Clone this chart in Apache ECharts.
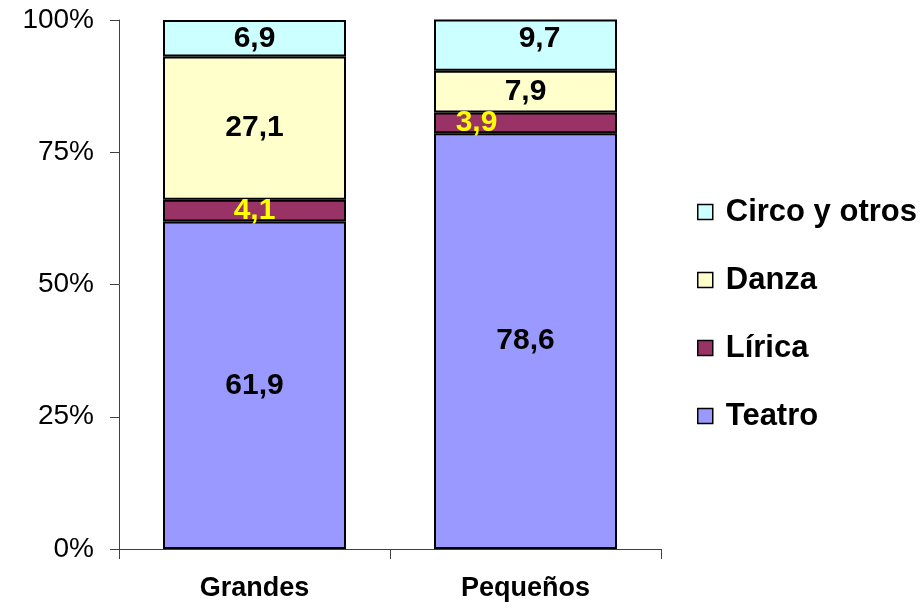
<!DOCTYPE html>
<html>
<head>
<meta charset="utf-8">
<script src="https://cdn.jsdelivr.net/npm/echarts@6/dist/echarts.min.js"></script>
<style>
  html, body { margin: 0; padding: 0; background: #fff; }
  #chart { width: 920px; height: 610px; }
</style>
</head>
<body>
<div id="chart"></div>
<script>
// Share of performances by venue size (%), stacked to 100%
const categories = ['Grandes', 'Pequeños'];
const teatro = [61.9, 78.6];
const lirica = [4.1, 3.9];
const danza = [27.1, 7.9];
const circo = [6.9, 9.7];
const yTicks = [0, 25, 50, 75, 100];

const FONT = '"Liberation Sans", Arial, sans-serif';
const fmt = v => v.toFixed(1).replace('.', ',');

// Per-bar nudges for labels that sit off-centre in their segment
const labelShift = {
  'Lírica': [[0, 0], [-49, 0]],
  'Circo y otros': [[0, 0], [14, -6]]
};

function makeSeries(name, values, color, labelColor) {
  const shifts = labelShift[name];
  return {
    name: name,
    type: 'bar',
    stack: 'total',
    barWidth: 183,
    itemStyle: { color: color, borderColor: '#000', borderWidth: 2 },
    label: {
      show: true,
      position: 'inside',
      color: labelColor,
      fontFamily: FONT,
      fontWeight: 'bold',
      fontSize: 30,
      formatter: p => fmt(p.value)
    },
    data: values.map((v, i) => {
      const item = { value: v };
      if (shifts) item.label = { offset: shifts[i] };
      return item;
    })
  };
}

const chart = echarts.init(document.getElementById('chart'), null, { renderer: 'canvas' });
chart.setOption({
  animation: false,
  backgroundColor: '#fff',
  grid: { left: 119, right: 259, top: 20, bottom: 61, containLabel: false },
  legend: {
    orient: 'vertical',
    left: 692,
    top: 191,
    itemWidth: 15,
    itemHeight: 15,
    itemGap: 36,
    icon: 'rect',
    itemStyle: { borderColor: '#000', borderWidth: 1.5 },
    textStyle: {
      fontFamily: FONT,
      fontWeight: 'bold',
      fontSize: 31,
      color: '#000',
      lineHeight: 32,
      padding: [0, 0, 0, 8]
    },
    data: ['Circo y otros', 'Danza', 'Lírica', 'Teatro']
  },
  xAxis: {
    type: 'category',
    data: categories,
    axisLine: { lineStyle: { color: '#404040', width: 1 } },
    axisTick: { show: true, length: 10, alignWithLabel: false, lineStyle: { color: '#404040' } },
    axisLabel: {
      margin: 26,
      fontFamily: FONT,
      fontWeight: 'bold',
      fontSize: 27,
      color: '#000'
    }
  },
  yAxis: {
    type: 'value',
    min: yTicks[0],
    max: yTicks[yTicks.length - 1],
    interval: yTicks[1] - yTicks[0],
    axisLine: { show: true, lineStyle: { color: '#404040', width: 1 } },
    axisTick: { show: true, length: 9, lineStyle: { color: '#404040' } },
    splitLine: { show: false },
    axisLabel: {
      margin: 25,
      fontFamily: FONT,
      fontSize: 28,
      color: '#000',
      formatter: '{value}%'
    }
  },
  series: [
    makeSeries('Teatro', teatro, '#9999FF', '#000'),
    makeSeries('Lírica', lirica, '#993366', '#FFFF00'),
    makeSeries('Danza', danza, '#FFFFCC', '#000'),
    makeSeries('Circo y otros', circo, '#CCFFFF', '#000')
  ]
});
</script>
</body>
</html>
